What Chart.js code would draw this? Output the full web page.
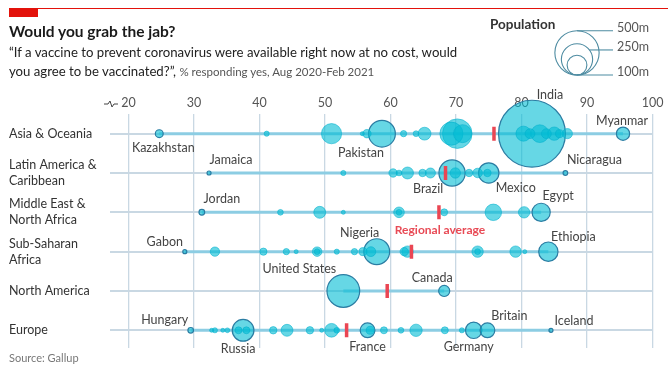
<!DOCTYPE html>
<html>
<head>
<meta charset="utf-8">
<script src="https://cdn.jsdelivr.net/npm/chart.js@4/dist/chart.umd.min.js"></script>
<style>
  body { margin: 0; background: #fff; font-family: Lato, "Open Sans", sans-serif; }
  #wrap { position: relative; width: 668px; height: 367px; overflow: hidden; }
  #chart { position: absolute; left: 0; top: 0; }
  .redline { position: absolute; left: 9px; right: 0; top: 8px; height: 1px; background: #e3120b; }
  .redbox { position: absolute; left: 9px; top: 8px; width: 29px; height: 9px; background: #e3120b; }
  #title { position: absolute; left: 9px; top: 22px; font-size: 15.5px; font-weight: 700; color: #1a1a1a; }
  #sub { position: absolute; left: 9px; top: 43px; font-size: 13.2px; line-height: 19px; color: #222; }
  #sub span { font-size: 11.5px; color: #555; }
  #pop { position: absolute; left: 490px; top: 16px; font-size: 13.5px; font-weight: 700; color: #333; }
  #src { position: absolute; left: 9px; top: 351px; font-size: 11px; color: #777; }
</style>
</head>
<body>
<div id="wrap">
  <canvas id="chart" width="668" height="367"></canvas>
  <div class="redline"></div>
  <div class="redbox"></div>
  <div id="title">Would you grab the jab?</div>
  <div id="sub">“If a vaccine to prevent coronavirus were available right now at no cost, would<br>you agree to be vaccinated?”, <span>% responding yes, Aug 2020-Feb 2021</span></div>
  <div id="pop">Population</div>
  <div id="src">Source: Gallup</div>
</div>
<script>
// rows, top to bottom
const regions = [
  ["Asia & Oceania"],
  ["Latin America &", "Caribbean"],
  ["Middle East &", "North Africa"],
  ["Sub-Saharan", "Africa"],
  ["North America"],
  ["Europe"],
];
const xTicks = [20, 30, 40, 50, 60, 70, 80, 90, 100];
const regionalAverages = [75.8, 68.4, 67.4, 63.2, 59.5, 53.3];

// unlabelled countries: % yes and population (m)
const asiaValues = [41.1, 51.0, 55.7, 56.4, 62.0, 63.9, 65.2, 69.3, 70.2, 71.0, 80.3, 81.3, 82.8, 83.8, 85.0, 85.8, 87.0];
const asiaPops = [8, 126, 5, 22, 12, 10, 51, 165, 270, 100, 70, 30, 97, 30, 55, 20, 32];
const latamValues = [52.8, 60.4, 61.3, 62.6, 64.9, 66.1, 69.9, 72.0, 73.3, 74.8];
const latamPops = [8, 22, 10, 44, 17, 31, 33, 17, 28, 17];
const menaValues = [43.2, 49.2, 52.8, 61.3, 61.3, 68.2, 75.7, 80.4];
const menaPops = [10, 44, 4, 35, 10, 15, 84, 40];
const ssaValues = [33.2, 40.6, 44.1, 45.6, 48.8, 48.8, 51.8, 54.5, 55.8, 57.0, 62.1, 62.6, 73.3, 73.3, 79.1, 80.5];
const ssaPops = [27, 16, 12, 5, 28, 10, 8, 12, 20, 30, 22, 40, 40, 10, 40, 5];
const naValues = [];
const naPops = [];
const euValues = [32.7, 33.2, 34.4, 35.1, 36.8, 38.0, 42.1, 44.2, 47.7, 49.5, 51.0, 51.8, 56.9, 59.0, 61.6, 63.9, 68.3, 70.9];
const euPops = [5, 8, 4, 7, 15, 15, 17, 44, 17, 5, 58, 10, 20, 15, 10, 47, 15, 8];

// labelled countries
const namedCountries = ["Kazakhstan", "Pakistan", "India", "Myanmar", "Jamaica", "Brazil", "Mexico", "Nicaragua",
  "Jordan", "Egypt", "Gabon", "Nigeria", "Ethiopia", "United States", "Canada",
  "Hungary", "Russia", "France", "Germany", "Britain", "Iceland"];
const namedRegion = [0, 0, 0, 0, 1, 1, 1, 1, 2, 2, 3, 3, 3, 4, 4, 5, 5, 5, 5, 5, 5];
const namedValues = [24.7, 58.7, 81.6, 95.5, 32.3, 69.4, 75.0, 86.7, 31.2, 83.0, 28.6, 57.9, 84.1, 52.8, 68.2,
  29.5, 37.5, 56.5, 72.7, 74.8, 84.5];
const namedPops = [19, 221, 1380, 54, 3, 212, 128, 6.6, 10, 102, 2.2, 206, 115, 330, 38, 9.7, 145, 67, 83, 67, 0.4];

const legendPops = [500, 250, 100];
const legendLabels = ["500m", "250m", "100m"];

// label offsets from the bubble centre (px)
const labelOffsets = [[4, 14], [-21, 19], [18, -39], [-1, -13], [22, -13], [-24, 16], [27, 15], [29, -13],
  [20, -13], [17, -16], [-20, -10], [-17, -19], [25, -15], [-44, -22], [-12, -13],
  [-26, -10], [-5, 19], [0, 17], [-5, 17], [22, -14], [23, -9]];

const otherValues = [asiaValues, latamValues, menaValues, ssaValues, naValues, euValues];
const otherPops = [asiaPops, latamPops, menaPops, ssaPops, naPops, euPops];

const FONT = "Lato, 'Open Sans', sans-serif";
const GRID = "#c9d8e3";
const sizeOf = (p) => Math.max(2, 0.9 * Math.sqrt(p));

// bubbles, big ones first so small ones sit on top
let others = [];
otherValues.forEach((vals, i) => {
  vals.forEach((v, j) => others.push({ x: v, y: i, r: sizeOf(otherPops[i][j]) }));
});
let named = namedValues.map((v, i) => ({ x: v, y: namedRegion[i], r: sizeOf(namedPops[i]), name: namedCountries[i], idx: i }));
const allBubbles = others.map((d) => ({ ...d, named: false }))
  .concat(named.map((d) => ({ ...d, named: true })))
  .sort((a, b) => b.r - a.r);

// min-max segment for each row
const rangeSets = regions.map((_, i) => {
  const vals = otherValues[i].concat(namedValues.filter((_, k) => namedRegion[k] === i));
  return {
    type: "line",
    data: [{ x: Math.min(...vals), y: i }, { x: Math.max(...vals), y: i }],
    borderColor: "#8ccde3",
    borderWidth: 3,
    pointRadius: 0,
    order: 10,
  };
});

const labelPlugin = {
  id: "labels",
  afterDatasetsDraw(chart) {
    const ctx = chart.ctx;
    const xs = chart.scales.x;
    const ys = chart.scales.y;
    ctx.save();
    // row names
    ctx.fillStyle = "#333";
    ctx.font = "12.5px " + FONT;
    ctx.textAlign = "left";
    ctx.textBaseline = "middle";
    regions.forEach((lines, i) => {
      const y = ys.getPixelForValue(i);
      lines.forEach((t, k) => ctx.fillText(t, 9, y + (k - (lines.length - 1) / 2) * 16));
    });
    // country names
    ctx.fillStyle = "#444";
    ctx.textAlign = "center";
    named.forEach((d, i) => {
      const px = xs.getPixelForValue(d.x);
      const py = ys.getPixelForValue(d.y);
      ctx.fillText(d.name, px + labelOffsets[i][0], py + labelOffsets[i][1]);
    });
    // regional average label, under the Middle East marker
    ctx.fillStyle = "#e84a55";
    ctx.font = "bold 12px " + FONT;
    ctx.fillText("Regional average", xs.getPixelForValue(regionalAverages[2]) + 1, ys.getPixelForValue(2) + 18);
    // axis break squiggle
    const by = 104;
    const bx = chart.chartArea.left - 6;
    ctx.strokeStyle = "#444";
    ctx.lineWidth = 1;
    ctx.beginPath();
    ctx.moveTo(bx, by);
    ctx.lineTo(bx + 4, by);
    ctx.lineTo(bx + 6, by - 3);
    ctx.lineTo(bx + 8, by + 3);
    ctx.lineTo(bx + 10, by);
    ctx.lineTo(bx + 14, by);
    ctx.stroke();
    // population legend
    const cx = 577, bottom = 75;
    ctx.strokeStyle = "#4d8ba1";
    ctx.lineWidth = 1.1;
    ctx.fillStyle = "#555";
    ctx.font = "12.5px " + FONT;
    ctx.textAlign = "left";
    legendPops.forEach((p, i) => {
      const r = sizeOf(p) * 1.1;
      const cy = bottom - r;
      ctx.beginPath();
      ctx.arc(cx, cy, r, 0, Math.PI * 2);
      ctx.stroke();
      let lx = cx, ly = cy - r;
      if (i === 1) { lx = cx + r * 0.8; ly = cy - r * 0.6; }
      if (i === 2) { ly = bottom; }
      ctx.beginPath();
      ctx.moveTo(lx, ly);
      ctx.lineTo(613, ly);
      ctx.stroke();
      ctx.fillText(legendLabels[i], 617, ly - 3);
    });
    ctx.restore();
  },
};

new Chart(document.getElementById("chart"), {
  data: {
    datasets: [
      ...rangeSets,
      {
        type: "bubble",
        data: allBubbles,
        backgroundColor: "rgba(0,188,212,0.6)",
        borderColor: (c) => (c.raw && c.raw.named ? "#2a7da3" : "rgba(0,176,205,0.7)"),
        borderWidth: (c) => (c.raw && c.raw.named ? 1.2 : 0.8),
        clip: false,
        order: 5,
      },
      {
        type: "scatter",
        data: regionalAverages.map((v, i) => ({ x: v, y: i })),
        pointStyle: "line",
        rotation: 90,
        radius: 7,
        borderColor: "#ea4653",
        borderWidth: 3.5,
        order: 1,
      },
    ],
  },
  options: {
    responsive: false,
    animation: false,
    devicePixelRatio: 1,
    layout: { autoPadding: false, padding: { left: 110, right: 15.5, top: 0, bottom: 19 } },
    plugins: { legend: { display: false }, tooltip: { enabled: false } },
    scales: {
      x: {
        type: "linear",
        position: "top",
        min: 17.18,
        max: 100,
        afterBuildTicks: (s) => { s.ticks = xTicks.map((v) => ({ value: v })); },
        afterFit: (s) => { s.height = 114; },
        ticks: { font: { family: FONT, size: 12.5 }, color: "#555", padding: 4 },
        grid: { color: GRID, lineWidth: 1.3, drawTicks: false },
        border: { display: false },
      },
      y: {
        type: "linear",
        min: -0.5,
        max: 5.45,
        reverse: true,
        afterBuildTicks: (s) => { s.ticks = regions.map((_, i) => ({ value: i })); },
        afterFit: (s) => { s.width = 0; },
        ticks: { display: false },
        grid: { color: GRID, lineWidth: 2, drawTicks: false },
        border: { display: false },
      },
    },
  },
  plugins: [labelPlugin],
});
</script>
</body>
</html>
